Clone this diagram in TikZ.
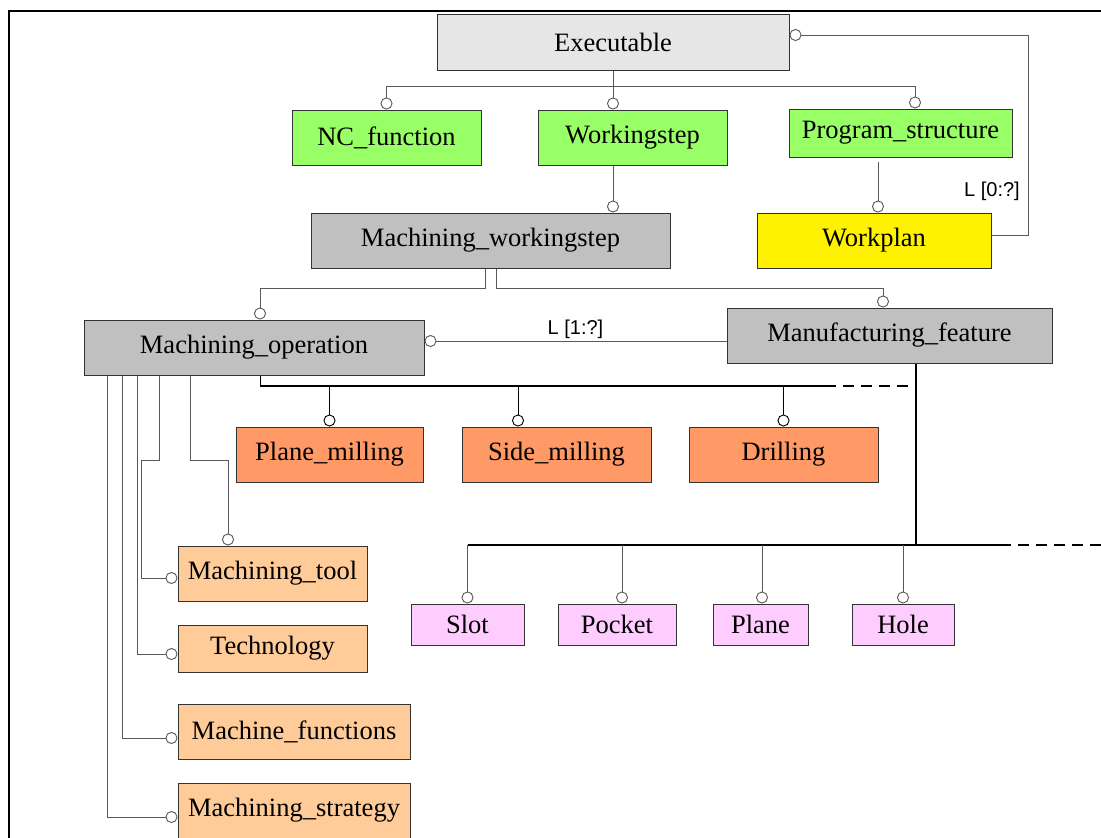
\documentclass[tikz,border=0pt]{standalone}
\usepackage{fontspec}
\setmainfont{Liberation Serif}
\newfontfamily\labfont{Liberation Sans}
\usetikzlibrary{arrows.meta}
\definecolor{exegray}{HTML}{E6E6E6}
\definecolor{midgray}{HTML}{C0C0C0}
\definecolor{lgreen}{HTML}{99FF66}
\definecolor{opcolor}{HTML}{FF9966}
\definecolor{rescolor}{HTML}{FFCC99}
\definecolor{featcolor}{HTML}{FFCCFF}
\tikzset{
  knob/.tip={Circle[fill=white,length=12pt,width=12pt]},
  box/.style={draw=black!80, line width=1pt, inner sep=0pt,
    font=\fontsize{26.5}{30}\selectfont},
  link/.style={draw=black!65, line width=0.9pt},
  bus/.style={draw=black, line width=1.8pt},
  lab/.style={font=\labfont\fontsize{20}{22}\selectfont, inner sep=2pt}
}

\begin{document}
\begin{tikzpicture}[x=1pt,y=-1pt]
	\useasboundingbox (0,0) rectangle (1101,838);
	% frame
	\draw[line width=2.6pt] (9,860) -- (9,11) -- (1120,11);

	% boxes
	\node[box,fill=exegray,minimum width=352pt,minimum height=56pt] (exe) at (613,42) {Executable};

	\node[box,fill=lgreen,minimum width=189pt,minimum height=55pt] (ncf) at (386.5,137.5) {NC\_function};
	\node[box,fill=lgreen,minimum width=189pt,minimum height=55pt] (ws) at (632.5,137.5) {Workingstep};
	\node[box,fill=lgreen,minimum width=223pt,minimum height=48pt] (ps) at (900.5,133) {Program\_structure};

	\node[box,fill=midgray,minimum width=359pt,minimum height=55pt] (mws) at (490.5,240.5) {Machining\_workingstep};
	\node[box,fill=yellow,minimum width=234pt,minimum height=55pt] (wp) at (874,240.5) {Workplan};

	\node[box,fill=midgray,minimum width=340pt,minimum height=55pt] (mop) at (254,347.5) {Machining\_operation};
	\node[box,fill=midgray,minimum width=325pt,minimum height=55pt] (mf) at (889.5,335.5) {Manufacturing\_feature};

	\node[box,fill=opcolor,minimum width=187pt,minimum height=55pt] (pm) at (329.5,454.5) {Plane\_milling};
	\node[box,fill=opcolor,minimum width=189pt,minimum height=55pt] (sm) at (556.5,454.5) {Side\_milling};
	\node[box,fill=opcolor,minimum width=189pt,minimum height=55pt] (dr) at (783.5,454.5) {Drilling};

	\node[box,fill=rescolor,minimum width=189pt,minimum height=55pt] (mt) at (272.5,573.5) {Machining\_tool};
	\node[box,fill=rescolor,minimum width=189pt,minimum height=47pt] (tech) at (272.5,648.5) {Technology};
	\node[box,fill=rescolor,minimum width=232pt,minimum height=55pt] (mfn) at (294,731.5) {Machine\_functions};
	\node[box,fill=rescolor,minimum width=232pt,minimum height=55pt] (mst) at (294,810.5) {Machining\_strategy};

	\node[box,fill=featcolor,minimum width=113pt,minimum height=41pt] (slot) at (467.5,624.5) {Slot};
	\node[box,fill=featcolor,minimum width=118pt,minimum height=41pt] (pck) at (617,624.5) {Pocket};
	\node[box,fill=featcolor,minimum width=95pt,minimum height=41pt] (pln) at (760.5,624.5) {Plane};
	\node[box,fill=featcolor,minimum width=102pt,minimum height=41pt] (hole) at (903,624.5) {Hole};

	% executable
	\coordinate (exebus) at (613,86);
	\draw[link] (exe.south) -- (exebus);
	\draw[link,-{knob}] (exebus) -| (ncf.north);
	\draw[link,-{knob}] (exebus) -| ([xshift=-19.5pt]ws.north);
	\draw[link,-{knob}] (exebus) -| ([xshift=14.5pt]ps.north);
	\draw[link,-{knob}] ([yshift=5.5pt]wp.east) -- ++(37,0) |- ([yshift=7pt]exe.east);
	\node[lab,anchor=east] (lwp) at (1022,191) {L [0:?]};

	\draw[link,-{knob}] ([xshift=-19.5pt]ws.south) -- ([xshift=122.5pt]mws.north);
	\draw[link,-{knob}] ([xshift=-22.5pt,yshift=-4pt]ps.south) -- ([xshift=4pt]wp.north);

	% workingstep
	\draw[link,-{knob}] ([xshift=-5pt]mws.south) -- ++(0,20) -| ([xshift=6pt]mop.north);
	\draw[link,-{knob}] ([xshift=5.5pt]mws.south) -- ++(0,20) -| ([xshift=-6.5pt]mf.north);
	\draw[link,{knob}-] ([yshift=6.5pt]mop.east) -- ([yshift=-5.5pt]mf.west)
		node[lab,midway,above] (lmf) {L [1:?]};

	% operations
	\coordinate (opbus) at (260,386);
	\draw[draw=black,line width=0.9pt] ([xshift=6pt]mop.south) -- (opbus);
	\draw[bus] (opbus) -- (825,386);
	\draw[bus,dash pattern=on 11pt off 7pt] (825,386) -- (910,386);
	\draw[draw=black,line width=0.9pt,-{knob}] (pm.north |- opbus) -- (pm.north);
	\draw[draw=black,line width=0.9pt,-{knob}] ([xshift=-38.5pt]sm.north |- opbus) -- ([xshift=-38.5pt]sm.north);
	\draw[draw=black,line width=0.9pt,-{knob}] (dr.north |- opbus) -- (dr.north);

	% resources
	\draw[link,-{knob}] ([xshift=-64pt]mop.south) -- ++(0,85) -| ([xshift=-44.5pt]mt.north);
	\draw[link,-{knob}] ([xshift=-95pt]mop.south) -- ++(0,85) -- ++(-18,0) |- ([yshift=-4.5pt]mt.west);
	\draw[link,-{knob}] ([xshift=-117pt]mop.south) |- ([yshift=-5.5pt]tech.west);
	\draw[link,-{knob}] ([xshift=-132pt]mop.south) |- ([yshift=-6.5pt]mfn.west);
	\draw[link,-{knob}] ([xshift=-147pt]mop.south) |- ([yshift=-6.5pt]mst.west);

	% features
	\coordinate (ftbus) at (916,545);
	\draw[bus] ([xshift=26.5pt]mf.south) -- (ftbus);
	\draw[bus] (slot.north |- ftbus) -- (1000,545);
	\draw[bus,dash pattern=on 11pt off 7pt] (1000,545) -- (1101,545);
	\draw[link,-{knob}] (slot.north |- ftbus) -- (slot.north);
	\draw[link,-{knob}] ([xshift=5pt]pck.north |- ftbus) -- ([xshift=5pt]pck.north);
	\draw[link,-{knob}] ([xshift=1.5pt]pln.north |- ftbus) -- ([xshift=1.5pt]pln.north);
	\draw[link,-{knob}] (hole.north |- ftbus) -- (hole.north);
\end{tikzpicture}
\end{document}
